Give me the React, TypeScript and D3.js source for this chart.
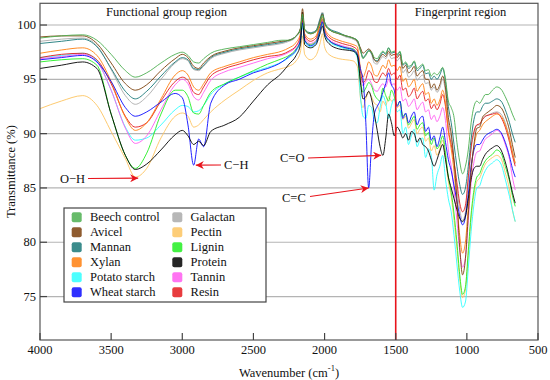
import React from 'react';
import * as d3 from 'd3';

const wavenumbers = [
  4000, 3850, 3700, 3600, 3500, 3400, 3330, 3250, 3150, 3050,
  3000, 2960, 2920, 2885, 2850, 2800, 2700, 2600, 2500, 2400,
  2300, 2250, 2200, 2170, 2155, 2140, 2100, 2060, 2030, 2015,
  2000, 1970, 1900, 1850, 1800, 1770, 1745, 1730, 1710, 1690,
  1670, 1650, 1630, 1610, 1590, 1570, 1550, 1530, 1510, 1490,
  1470, 1450, 1430, 1410, 1390, 1370, 1350, 1330, 1310, 1290,
  1270, 1250, 1230, 1210, 1190, 1170, 1150, 1130, 1110, 1090,
  1070, 1050, 1030, 1010, 990, 970, 950, 930, 910, 890,
  870, 850, 820, 790, 760, 730, 700, 680, 660,
];

const beechControl = [
  98.8, 99.0, 99.1, 98.6, 97.3, 95.8, 95.2, 95.6, 96.5, 97.3,
  97.5, 97.2, 96.6, 96.5, 96.9, 97.4, 97.8, 98.0, 98.2, 98.4,
  98.6, 98.6, 99.0, 99.6, 101.0, 99.6, 99.2, 99.4, 100.3, 100.9,
  100.2, 99.6, 99.2, 99.0, 98.8, 98.6, 97.5, 96.9, 97.2, 97.6,
  97.5, 97.0, 96.9, 97.3, 97.6, 97.4, 97.9, 97.5, 97.6, 97.3,
  97.6, 96.4, 96.6, 96.2, 96.3, 96.7, 96.0, 96.2, 96.4, 95.8,
  95.9, 95.3, 95.6, 95.4, 95.7, 96.1, 95.0, 93.0, 92.4, 91.5,
  89.2, 87.4, 86.3, 87.0, 88.5, 91.0, 92.5, 93.0, 92.8, 93.2,
  93.6, 93.6, 94.0, 94.3, 94.1, 93.4, 92.5, 91.8, 91.2,
];

const avicel = [
  98.9, 99.0, 99.0, 98.3, 96.5, 94.6, 94.0, 94.5, 95.8, 96.9,
  97.3, 97.0, 96.2, 96.0, 96.5, 97.1, 97.6, 97.9, 98.1, 98.3,
  98.5, 98.6, 99.0, 99.7, 101.5, 99.6, 99.2, 99.4, 100.4, 101.0,
  100.2, 99.6, 99.2, 99.0, 98.8, 98.5, 97.8, 97.4, 97.6, 97.8,
  97.5, 96.8, 96.6, 97.0, 97.3, 97.1, 97.6, 97.2, 97.3, 97.0,
  97.3, 96.0, 96.3, 95.6, 95.8, 96.2, 95.3, 95.6, 95.8, 95.0,
  95.0, 94.2, 94.6, 94.0, 94.5, 95.3, 94.2, 91.5, 90.0, 87.5,
  84.0, 79.5, 77.0, 78.5, 82.5, 86.5, 89.0, 90.5, 90.6, 91.5,
  91.8, 92.0, 92.3, 92.6, 92.4, 91.6, 90.3, 89.0, 87.8,
];

const mannan = [
  98.3, 98.5, 98.7, 98.0, 96.0, 93.9, 93.2, 93.9, 95.3, 96.6,
  97.0, 96.8, 96.0, 95.9, 96.3, 97.0, 97.5, 97.8, 98.0, 98.2,
  98.4, 98.6, 99.0, 99.6, 100.8, 99.6, 99.3, 99.5, 100.6, 101.1,
  100.3, 99.7, 99.3, 99.0, 98.8, 98.6, 97.6, 97.0, 97.3, 97.7,
  97.4, 96.8, 96.7, 97.1, 97.5, 97.3, 97.9, 97.4, 97.5, 97.2,
  97.5, 96.3, 96.5, 96.0, 96.2, 96.6, 95.8, 96.0, 96.3, 95.5,
  95.6, 95.0, 95.3, 95.0, 95.4, 96.0, 94.8, 92.5, 91.0, 89.0,
  87.0, 85.3, 84.4, 85.0, 87.0, 89.5, 91.3, 92.0, 92.0, 92.5,
  92.8, 92.8, 93.0, 93.2, 93.0, 92.2, 91.0, 90.0, 89.2,
];

const xylan = [
  97.4, 97.7, 97.9, 97.2, 94.8, 91.5, 90.3, 91.0, 93.2, 95.4,
  95.8, 95.4, 94.3, 94.0, 94.6, 95.6, 96.2, 96.6, 97.0, 97.3,
  97.6, 97.9, 98.4, 99.2, 100.6, 99.2, 98.7, 99.0, 100.2, 100.7,
  99.8, 99.1, 98.6, 98.4, 98.2, 98.0, 95.8, 95.2, 95.8, 96.6,
  96.2, 95.4, 95.3, 95.8, 96.3, 96.0, 96.8, 96.2, 96.3, 95.8,
  96.2, 94.8, 95.1, 94.3, 94.6, 95.0, 93.9, 94.3, 94.6, 93.6,
  93.8, 92.8, 93.2, 92.6, 93.1, 94.0, 92.8, 90.2, 88.6, 86.5,
  83.5, 80.6, 79.0, 80.0, 83.3, 86.8, 88.8, 90.0, 90.3, 90.8,
  91.1, 91.3, 91.6, 91.8, 91.6, 90.8, 89.5, 88.3, 87.3,
];

const potatoStarch = [
  97.0, 97.2, 97.4, 96.7, 94.0, 90.6, 89.4, 89.6, 90.8, 92.2,
  92.6, 92.5, 92.0, 92.1, 92.6, 93.6, 94.6, 95.2, 95.7, 96.1,
  96.6, 97.0, 97.6, 98.5, 100.0, 98.5, 98.0, 98.3, 99.6, 100.8,
  99.3, 98.5, 98.0, 97.8, 97.6, 97.0, 93.0, 91.6, 91.4, 92.6,
  92.4, 91.2, 91.0, 92.4, 93.5, 92.8, 91.4, 92.6, 93.2, 92.0,
  92.2, 90.0, 90.6, 89.0, 89.8, 90.4, 88.8, 89.4, 89.6, 87.8,
  88.6, 88.0, 84.8, 86.2, 87.0, 88.0, 85.8, 84.0, 82.8, 80.6,
  78.0, 75.5, 74.0, 74.5, 77.6, 81.0, 83.5, 85.0, 85.2, 86.0,
  86.6, 87.0, 87.3, 87.6, 87.2, 85.8, 84.2, 83.0, 81.9,
];

const wheatStarch = [
  96.8, 97.0, 97.2, 96.6, 94.8, 92.4, 91.6, 92.0, 92.9, 93.7,
  93.3, 90.8, 87.1, 89.5, 88.8, 92.8, 94.5, 95.0, 95.6, 96.0,
  96.6, 97.1, 97.7, 98.6, 100.2, 98.6, 98.1, 98.4, 99.6, 100.3,
  99.3, 98.6, 98.1, 97.9, 97.7, 97.3, 95.8, 95.0, 91.0, 85.0,
  89.0, 91.8, 92.5, 93.0, 93.8, 94.6, 95.6, 94.5, 94.0, 92.5,
  93.0, 91.4, 91.9, 91.0, 91.6, 92.0, 90.8, 91.4, 91.6, 90.2,
  90.6, 89.4, 89.8, 88.8, 89.6, 90.6, 89.2, 87.6, 86.6, 85.2,
  83.8, 82.4, 81.6, 82.3, 84.4, 87.0, 88.5, 89.0, 89.0, 89.4,
  89.8, 90.0, 90.2, 90.4, 90.1, 89.2, 87.9, 86.8, 86.0,
];

const galactan = [
  98.5, 98.7, 98.8, 98.1, 95.9, 93.5, 92.7, 93.4, 95.0, 96.5,
  96.9, 96.7, 95.9, 95.8, 96.2, 96.9, 97.4, 97.7, 97.9, 98.1,
  98.3, 98.5, 98.9, 99.6, 100.9, 99.5, 99.2, 99.5, 100.7, 101.2,
  100.3, 99.6, 99.2, 98.9, 98.7, 98.4, 97.5, 97.0, 97.3, 97.6,
  97.3, 96.5, 96.4, 96.8, 97.1, 96.9, 97.4, 96.9, 97.0, 96.7,
  97.0, 95.6, 95.9, 95.2, 95.4, 95.8, 94.9, 95.2, 95.4, 94.6,
  94.7, 94.0, 94.3, 93.8, 94.2, 95.0, 93.8, 91.0, 89.6, 87.5,
  85.0, 83.0, 82.0, 82.8, 85.5, 88.5, 90.0, 90.8, 90.8, 91.3,
  91.6, 91.7, 91.9, 92.0, 91.8, 91.0, 89.6, 88.4, 87.2,
];

const pectin = [
  92.3, 93.0, 93.5, 92.6, 90.2, 87.7, 86.0, 86.8, 89.6, 91.6,
  91.9, 91.6, 90.6, 90.8, 91.3, 92.0, 93.1, 94.0, 94.9, 95.6,
  96.0, 96.2, 96.7, 97.5, 99.0, 97.3, 96.8, 97.2, 98.4, 99.2,
  98.0, 97.3, 96.9, 96.8, 96.7, 96.2, 93.0, 92.4, 93.2, 93.8,
  93.4, 92.8, 92.6, 92.0, 93.0, 92.6, 93.4, 93.0, 93.2, 92.4,
  92.6, 91.3, 91.6, 90.5, 90.9, 91.3, 90.0, 90.4, 90.6, 89.3,
  89.6, 88.4, 88.9, 88.0, 88.6, 89.4, 87.8, 85.6, 84.2, 82.0,
  79.4, 76.6, 74.9, 75.6, 78.8, 82.2, 84.4, 85.6, 85.9, 86.6,
  87.2, 87.5, 87.8, 88.0, 87.7, 86.4, 84.8, 83.0, 81.9,
];

const lignin = [
  96.6, 96.8, 96.9, 96.3, 91.8, 88.0, 86.8, 88.2, 91.8, 94.0,
  94.0, 93.4, 91.9, 91.8, 92.6, 93.8, 94.6, 95.2, 95.8, 96.4,
  96.9, 97.2, 97.8, 98.6, 100.1, 98.6, 98.2, 98.5, 99.7, 100.2,
  99.3, 98.6, 98.1, 97.9, 97.8, 97.3, 94.6, 93.8, 94.2, 94.7,
  94.4, 93.6, 93.2, 93.0, 94.2, 93.5, 93.0, 94.0, 93.4, 92.6,
  93.0, 91.6, 91.8, 90.8, 91.2, 91.6, 90.4, 90.8, 91.0, 89.8,
  90.1, 89.0, 89.6, 88.6, 89.0, 89.8, 88.2, 86.0, 84.6, 82.6,
  80.0, 77.0, 75.2, 75.9, 79.2, 82.6, 84.8, 86.0, 86.3, 87.0,
  87.5, 87.8, 88.1, 88.5, 88.2, 87.0, 85.6, 84.3, 83.3,
];

const protein = [
  96.0, 96.3, 96.6, 96.0, 91.8, 88.0, 86.7, 87.2, 88.5, 89.9,
  90.3, 89.8, 89.0, 89.3, 88.9, 90.2, 90.8, 91.5, 93.0, 94.5,
  95.6, 96.4, 97.2, 98.2, 101.2, 98.2, 97.9, 98.2, 99.3, 99.9,
  99.0, 98.3, 97.8, 97.7, 97.6, 97.2, 94.4, 93.2, 93.4, 93.9,
  93.2, 91.8, 90.3, 88.8, 88.0, 89.6, 91.8, 91.0, 89.8, 90.6,
  90.2, 89.6, 90.0, 89.4, 90.2, 90.0, 89.2, 89.6, 89.0, 88.8,
  88.4, 87.6, 87.0, 87.6, 88.4, 89.0, 87.6, 86.0, 85.0, 84.0,
  83.0, 82.2, 81.9, 82.4, 84.0, 85.8, 86.8, 87.0, 87.0, 87.6,
  88.1, 88.4, 88.7, 88.9, 88.5, 87.4, 85.8, 84.6, 83.6,
];

const tannin = [
  96.9, 97.1, 97.3, 96.6, 94.0, 90.5, 89.1, 89.8, 92.2, 94.5,
  95.0, 94.6, 93.4, 93.1, 93.8, 94.9, 95.7, 96.1, 96.5, 96.9,
  97.2, 97.5, 98.0, 98.9, 100.3, 98.8, 98.3, 98.6, 99.8, 100.3,
  99.4, 98.7, 98.2, 98.0, 97.8, 97.4, 95.0, 94.4, 94.8, 95.0,
  94.6, 94.0, 93.9, 94.3, 94.6, 94.3, 95.0, 94.5, 94.6, 94.0,
  94.3, 93.0, 93.2, 92.5, 92.8, 93.2, 92.2, 92.6, 92.9, 92.0,
  92.2, 91.3, 91.7, 91.1, 91.6, 92.4, 91.2, 88.5, 87.0, 84.8,
  82.0, 79.2, 77.7, 78.6, 82.0, 85.5, 87.4, 88.3, 88.4, 89.0,
  89.5, 89.7, 90.0, 90.3, 90.0, 89.0, 87.6, 86.0, 84.8,
];

const resin = [
  97.0, 97.3, 97.4, 96.8, 94.6, 91.6, 90.6, 91.0, 93.0, 94.8,
  95.2, 94.9, 93.8, 93.6, 94.3, 95.3, 96.0, 96.4, 96.8, 97.1,
  97.3, 97.6, 98.1, 99.0, 100.5, 99.0, 98.5, 98.8, 100.0, 100.5,
  99.6, 98.9, 98.4, 98.2, 98.0, 97.7, 95.5, 94.7, 95.0, 95.8,
  95.5, 94.8, 94.7, 95.2, 95.6, 95.3, 96.0, 95.4, 95.6, 95.0,
  95.4, 94.0, 94.2, 93.4, 93.7, 94.2, 93.2, 93.6, 93.9, 93.0,
  93.2, 92.3, 92.7, 92.2, 92.7, 93.6, 92.5, 90.3, 89.0, 87.4,
  85.5, 83.6, 82.8, 83.4, 86.0, 88.8, 90.2, 90.8, 90.9, 91.3,
  91.6, 91.7, 91.8, 91.9, 91.5, 90.6, 89.2, 88.0, 87.0,
];

const legendNames = [
  'Beech control', 'Avicel', 'Mannan', 'Xylan', 'Potato starch', 'Wheat starch',
  'Galactan', 'Pectin', 'Lignin', 'Protein', 'Tannin', 'Resin',
];
const legendColors = [
  '#4caf50', '#7b3f0a', '#197878', '#ff7f0e', '#2effff', '#0a0aff',
  '#aaaaaa', '#fdc460', '#22ee22', '#000000', '#ff5cf0', '#e41a1c',
];
const seriesValues = [
  beechControl, avicel, mannan, xylan, potatoStarch, wheatStarch,
  galactan, pectin, lignin, protein, tannin, resin,
];
const drawOrder = [7, 6, 4, 10, 11, 3, 8, 5, 9, 2, 1, 0];

const xTicks = [4000, 3500, 3000, 2500, 2000, 1500, 1000, 500];
const yTicks = [75, 80, 85, 90, 95, 100];
const regionDivider = 1500;

const annotations = [
  { label: 'O\u2212H', tx: 60, ty: 178.5, x1: 88, y1: 178.5, wn: 3310, v: 85.9 },
  { label: 'C\u2212H', tx: 224, ty: 165, x1: 221, y1: 165, wn: 2905, v: 87.1 },
  { label: 'C=O', tx: 280, ty: 158, x1: 308, y1: 158, wn: 1602, v: 88.0 },
  { label: 'C=C', tx: 282, ty: 197.5, x1: 310, y1: 196.5, wn: 1690, v: 85.0 },
];

const FONT = '"Liberation Serif", "Times New Roman", "DejaVu Serif", serif';
const txt: React.CSSProperties = { fontFamily: FONT, fontSize: '12.5px' };

export default function App() {
  const W = 550, H = 380;
  const left = 40, right = 538, top = 3.3, bottom = 340;
  const x = d3.scaleLinear().domain([4000, 500]).range([left, right]);
  const y = d3.scaleLinear().domain([71, 102]).range([bottom, top]);
  const line = d3.line<[number, number]>()
    .x(d => x(d[0]))
    .y(d => y(d[1]))
    .curve(d3.curveMonotoneX);

  const legendRows = 6;
  return (
    <svg width={W} height={H} style={{ position: 'absolute', left: 0, top: 0, background: '#fff', fontFamily: FONT }}>
      <defs>
        <clipPath id="plotClip">
          <rect x={left} y={top} width={right - left} height={bottom - top} />
        </clipPath>
        <marker id="arrowHead" viewBox="0 0 10 10" refX="10" refY="5" markerWidth="9" markerHeight="8"
          markerUnits="userSpaceOnUse" orient="auto">
          <path d="M0,0 L10,5 L0,10 L3,5 z" fill="#e8141c" />
        </marker>
      </defs>
      <rect x={0} y={0} width={W} height={H} fill="#fff" />
      {yTicks.map(t => (
        <line key={'g' + t} x1={left} x2={right} y1={y(t)} y2={y(t)} stroke="#b4b4b4" strokeWidth={1.2} />
      ))}
      <g clipPath="url(#plotClip)">
        {drawOrder.map(i => {
          const pts: [number, number][] = wavenumbers.map((wn, k) => [wn, seriesValues[i][k]]);
          return (
            <path key={legendNames[i]} d={line(pts) || ''} fill="none" stroke={legendColors[i]}
              strokeWidth={0.9} strokeLinejoin="round" />
          );
        })}
      </g>
      <line x1={x(regionDivider)} x2={x(regionDivider)} y1={top} y2={bottom} stroke="#e8141c" strokeWidth={1.6} />
      <rect x={left} y={top} width={right - left} height={bottom - top} fill="none" stroke="#555" strokeWidth={1.2} />
      {yTicks.map(t => (
        <g key={'yt' + t}>
          <line x1={left} x2={left + 7} y1={y(t)} y2={y(t)} stroke="#444" strokeWidth={1.2} />
          <text x={36} y={y(t)} textAnchor="end" dominantBaseline="central" style={txt} fill="#111">{t}</text>
        </g>
      ))}
      {xTicks.map(t => (
        <g key={'xt' + t}>
          <line x1={x(t)} x2={x(t)} y1={bottom} y2={bottom - 7} stroke="#444" strokeWidth={1.2} />
          <text x={x(t)} y={350} textAnchor="middle" dominantBaseline="central" style={txt} fill="#111">{t}</text>
        </g>
      ))}
      <text x={(left + right) / 2} y={373} textAnchor="middle" dominantBaseline="central" style={txt} fill="#111">
        Wavenumber (cm<tspan dy={-5} style={{ fontSize: '8.5px' }}>-1</tspan><tspan dy={5}>)</tspan>
      </text>
      <text transform={`translate(11,${(top + bottom) / 2}) rotate(-90)`} textAnchor="middle" dominantBaseline="central"
        style={txt} fill="#111">Transmittance (%)</text>
      <text x={166.5} y={12} textAnchor="middle" dominantBaseline="central" style={txt} fill="#111">Functional group region</text>
      <text x={460.5} y={12} textAnchor="middle" dominantBaseline="central" style={txt} fill="#111">Fingerprint region</text>
      {annotations.map(a => (
        <g key={a.label}>
          <text x={a.tx} y={a.ty} dominantBaseline="central" style={txt} fill="#111">{a.label}</text>
          <line x1={a.x1} y1={a.y1} x2={x(a.wn)} y2={y(a.v)} stroke="#e8141c" strokeWidth={1.1} markerEnd="url(#arrowHead)" />
        </g>
      ))}
      <g>
        <rect x={64} y={208} width={202} height={94} fill="#fff" stroke="#444" strokeWidth={1.2} />
        {legendNames.map((n, i) => {
          const col = Math.floor(i / legendRows);
          const row = i % legendRows;
          const sx = col === 0 ? 71.7 : 172.3;
          const cy = 217.3 + row * 15;
          return (
            <g key={'lg' + n}>
              <rect x={sx} y={cy - 5} width={10} height={10} rx={2} fill={legendColors[i]} opacity={0.85} />
              <text x={sx + 18.3} y={cy} dominantBaseline="central" style={txt} fill="#111">{n}</text>
            </g>
          );
        })}
      </g>
    </svg>
  );
}
